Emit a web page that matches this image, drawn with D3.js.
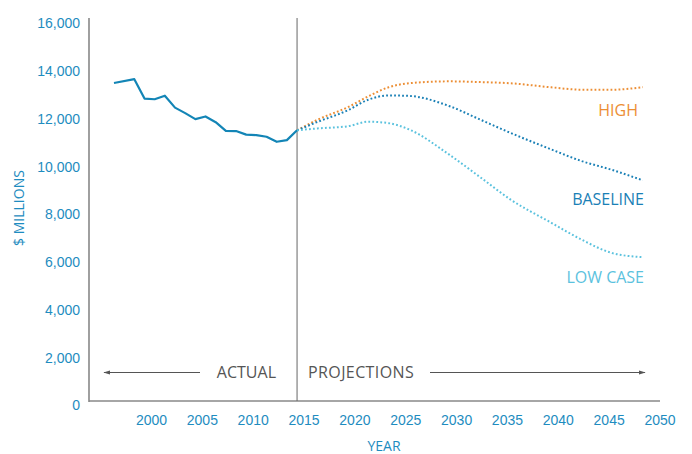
<!DOCTYPE html>
<html>
<head>
<meta charset="utf-8">
<script src="https://cdn.jsdelivr.net/npm/d3@7"></script>
<style>
  body { margin: 0; background: #fff; }
  svg { font-family: "Open Sans", sans-serif; }
  .tick text { fill: #1e8cc0; font-size: 14px; }
  .note { fill: #555; font-size: 16px; }
</style>
</head>
<body>
<div id="chart"></div>
<script>
const width = 692
const height = 454

// Actual data
const actualYears = [1997, 1999, 2000, 2001, 2002, 2003, 2004, 2005, 2006, 2007, 2008, 2009, 2010, 2011, 2012, 2013, 2014, 2015]
const actualValues = [13500, 13660, 12850, 12820, 12970, 12470, 12240, 11990, 12100, 11860, 11500, 11490, 11340, 11320, 11250, 11040, 11110, 11520]

// Projections
const projYears = [2015, 2017, 2020, 2022, 2024, 2026, 2030, 2033, 2036, 2040, 2043, 2046, 2049]
const highValues = [11520, 11960, 12490, 12940, 13320, 13490, 13570, 13540, 13490, 13320, 13220, 13220, 13330]
const baselineValues = [11520, 11870, 12360, 12800, 12980, 12960, 12530, 11970, 11410, 10720, 10230, 9860, 9425]
const lowValues = [11520, 11600, 11690, 11880, 11820, 11560, 10490, 9560, 8620, 7650, 6940, 6380, 6210]

const xTicks = [2000, 2005, 2010, 2015, 2020, 2025, 2030, 2035, 2040, 2045, 2050]
const yTicks = [0, 2000, 4000, 6000, 8000, 10000, 12000, 14000, 16000]

const series = [
  {name: "HIGH", values: highValues, color: "#ec8e34", labelX: 638, labelY: 110},
  {name: "BASELINE", values: baselineValues, color: "#1a80b6", labelX: 644, labelY: 199},
  {name: "LOW CASE", values: lowValues, color: "#5bc2de", labelX: 644, labelY: 277}
]

const x = d3.scaleLinear().domain([2000, 2050]).range([144.5, 653])
const y = d3.scaleLinear().domain([0, 16000]).range([405.5, 23.3])

const svg = d3.select("div#chart").append("svg").attr("width", width).attr("height", height)

// Axes
const yAxis = d3.axisLeft(y).tickValues(yTicks).tickSize(0).tickPadding(9).tickFormat(d3.format(","))
svg.append("g").attr("transform", "translate(89,0)").call(yAxis)
  .call(g => g.select(".domain").remove())

const xAxis = d3.axisBottom(x).tickValues(xTicks).tickSize(0).tickPadding(14).tickFormat(d3.format("d"))
svg.append("g").attr("transform", "translate(0,401)").call(xAxis)
  .call(g => g.select(".domain").remove())
  .call(g => g.selectAll(".tick text").attr("dx", 6.5))

// Axis lines
svg.append("line").attr("x1", 89).attr("x2", 89).attr("y1", 18).attr("y2", 402)
  .attr("stroke", "#888").attr("stroke-width", 1.6)
svg.append("line").attr("x1", 89).attr("x2", 660).attr("y1", 401).attr("y2", 401)
  .attr("stroke", "#888").attr("stroke-width", 1.6)

// Divider at 2015
svg.append("line").attr("x1", x(2015)).attr("x2", x(2015)).attr("y1", 18).attr("y2", 401)
  .attr("stroke", "#666").attr("stroke-width", 1)

// Axis titles
svg.append("text").attr("x", 384).attr("y", 451).attr("text-anchor", "middle")
  .attr("fill", "#1e8cc0").style("font-size", "14px").text("YEAR")
svg.append("text").attr("transform", "translate(24,208) rotate(-90)").attr("text-anchor", "middle")
  .attr("fill", "#1e8cc0").style("font-size", "14px").text("$ MILLIONS")

// Actual line
const actualData = actualYears.map((d, i) => ({year: d, value: actualValues[i]}))
svg.append("path").datum(actualData)
  .attr("fill", "none").attr("stroke", "#1385b6").attr("stroke-width", 2.2).attr("stroke-linejoin", "round")
  .attr("d", d3.line().x(d => x(d.year)).y(d => y(d.value)))

// Projection lines
const projLine = d3.line().curve(d3.curveMonotoneX).x(d => x(d.year)).y(d => y(d.value))
series.forEach(s => {
  const data = projYears.map((d, i) => ({year: d, value: s.values[i]}))
  svg.append("path").datum(data)
    .attr("fill", "none").attr("stroke", s.color).attr("stroke-width", 2)
    .attr("stroke-dasharray", "1.8,2.2")
    .attr("d", projLine)
  svg.append("text").attr("x", s.labelX).attr("y", s.labelY).attr("dy", "0.35em").attr("text-anchor", "end")
    .attr("fill", s.color).style("font-size", "16px").text(s.name)
})

// Actual / projections notes with arrows
svg.append("defs").append("marker").attr("id", "arrow")
  .attr("viewBox", "0 0 10 10").attr("refX", 9).attr("refY", 5)
  .attr("markerWidth", 7).attr("markerHeight", 7).attr("orient", "auto-start-reverse")
  .append("path").attr("d", "M0,2L10,5L0,8Z").attr("fill", "#555")

svg.append("line").attr("x1", 200).attr("x2", 104).attr("y1", 372.5).attr("y2", 372.5)
  .attr("stroke", "#555").attr("stroke-width", 1).attr("marker-end", "url(#arrow)")
svg.append("line").attr("x1", 430).attr("x2", 645).attr("y1", 372.5).attr("y2", 372.5)
  .attr("stroke", "#555").attr("stroke-width", 1).attr("marker-end", "url(#arrow)")

svg.append("text").attr("class", "note").attr("x", 276).attr("y", 372.5).attr("dy", "0.35em")
  .attr("text-anchor", "end").text("ACTUAL")
svg.append("text").attr("class", "note").attr("x", 308).attr("y", 372.5).attr("dy", "0.35em")
  .style("letter-spacing", "0.4px").text("PROJECTIONS")
</script>
</body>
</html>
